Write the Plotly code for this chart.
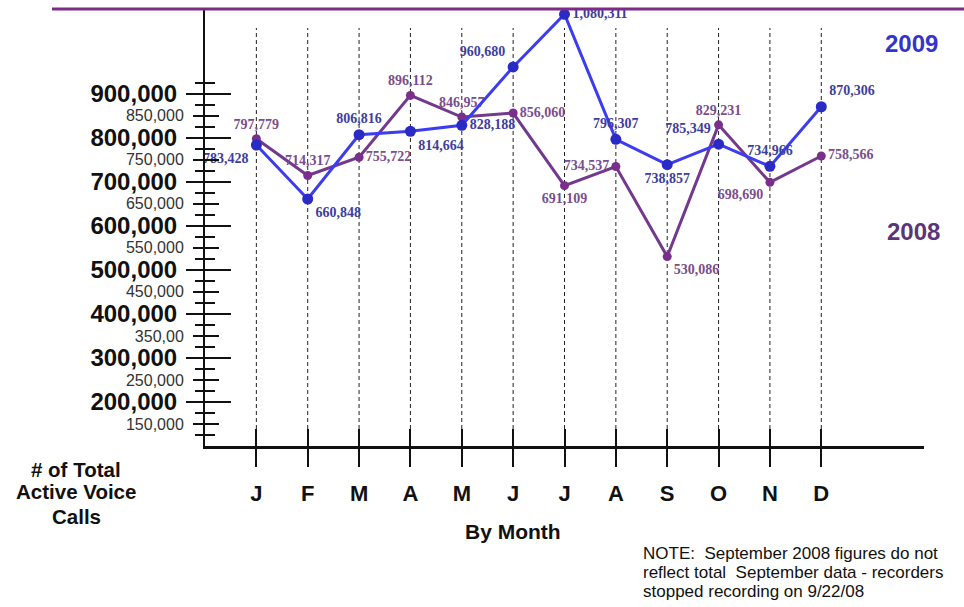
import plotly.graph_objects as go

# Monthly totals of active voice calls
months = ["J", "F", "M", "A", "M", "J", "J", "A", "S", "O", "N", "D"]
calls_2009 = [783428, 660848, 806816, 814664, 828188, 960680, 1080311,
              796307, 738857, 785349, 734966, 870306]
calls_2008 = [797779, 714317, 755722, 896112, 846957, 856060, 691109,
              734537, 530086, 829231, 698690, 758566]

# Value-axis tick scheme: bold labels every 100k, light labels between, small unlabeled ticks
major_vals = [200000, 300000, 400000, 500000, 600000, 700000, 800000, 900000]
major_text = ["200,000", "300,000", "400,000", "500,000", "600,000",
              "700,000", "800,000", "900,000"]
mid_vals = [150000, 250000, 350000, 450000, 550000, 650000, 750000, 850000]
mid_text = ["150,000", "250,000", "350,00", "450,000", "550,000",
            "650,000", "750,000", "850,000"]
minor_vals = [125000, 175000, 225000, 275000, 325000, 375000, 425000, 475000,
              525000, 575000, 625000, 675000, 725000, 775000, 825000, 875000, 925000]

# Where each value label sits around its point
pos_2009 = ["bottom left", "bottom right", "top center", "bottom right", "middle right",
            "top left", "middle right", "top center", "bottom center", "top left",
            "top center", "top right"]
pos_2008 = ["top center", "top center", "middle right", "top center", "top center",
            "middle right", "bottom center", "middle left", "bottom right", "top center",
            "bottom left", "middle right"]

Y_RANGE = [100000, 1090000]
X_RANGE = [-1, 13]
x_idx = list(range(len(months)))

# Plot-area geometry in pixels, used to place free text
FIG_W, FIG_H = 964, 607
PLOT_L, PLOT_W = 205, 719
PLOT_B, PLOT_H = 446, 436


def px_x(px):
    return (px - PLOT_L) / PLOT_W


def px_y(py):
    return (PLOT_B - py) / PLOT_H


SANS = "Liberation Sans, Arial, sans-serif"
SERIF = "Liberation Serif, Times New Roman, serif"

fig = go.Figure()

fig.add_trace(go.Scatter(
    x=x_idx, y=calls_2008, mode="lines+markers+text",
    line=dict(color="#73398c", width=3),
    marker=dict(color="#7a2f8c", size=9),
    text=[f"{v:,}" for v in calls_2008], textposition=pos_2008,
    textfont=dict(family=SERIF, size=14, color="#7a4d8e", weight="bold"),
    cliponaxis=False, showlegend=False, hoverinfo="skip",
))
fig.add_trace(go.Scatter(
    x=x_idx, y=calls_2009, mode="lines+markers+text",
    line=dict(color="#3c3cf2", width=3),
    marker=dict(color="#2a2ac4", size=11),
    text=[f"{v:,}" for v in calls_2009], textposition=pos_2009,
    textfont=dict(family=SERIF, size=14, color="#3e3e9c", weight="bold"),
    cliponaxis=False, showlegend=False, hoverinfo="skip",
))

# Dashed month guides
for i in x_idx:
    fig.add_shape(type="line", xref="x", yref="paper", x0=i, x1=i,
                  y0=px_y(429), y1=px_y(28),
                  line=dict(color="#222222", width=1, dash="4px,3px"), layer="below")

# Heading rule across the top
fig.add_shape(type="line", xref="paper", yref="paper", x0=px_x(52), x1=px_x(964),
              y0=px_y(9), y1=px_y(9), line=dict(color="#7e2a88", width=3))

axis_font_major = dict(family=SANS, size=24, color="#111111", weight="bold")
axis_font_mid = dict(family=SANS, size=16, color="#333333")

fig.update_layout(
    width=FIG_W, height=FIG_H,
    margin=dict(l=PLOT_L, r=FIG_W - PLOT_L - PLOT_W, t=PLOT_B - PLOT_H, b=FIG_H - PLOT_B),
    paper_bgcolor="white", plot_bgcolor="white",
    xaxis=dict(
        range=X_RANGE, tickvals=x_idx, ticktext=months,
        ticks="outside", ticklen=18, tickwidth=2, tickcolor="#111111",
        showline=True, linewidth=2.5, linecolor="#111111",
        showgrid=False, zeroline=False, ticklabelstandoff=8,
        tickfont=dict(family=SANS, size=22, color="#111111", weight="bold"),
    ),
    xaxis2=dict(
        range=X_RANGE, overlaying="x", anchor="y", side="bottom",
        tickvals=x_idx, ticks="inside", ticklen=17, tickwidth=2, tickcolor="#111111",
        showticklabels=False, showline=False, showgrid=False, zeroline=False,
    ),
    yaxis=dict(
        range=Y_RANGE, tickvals=major_vals, ticktext=major_text,
        ticks="outside", ticklen=17, tickwidth=2, tickcolor="#111111",
        showline=True, linewidth=2, linecolor="#111111",
        showgrid=False, zeroline=False, tickfont=axis_font_major, ticklabelstandoff=4,
        minor=dict(tickvals=minor_vals, ticks="outside", ticklen=8, tickwidth=1.5,
                   tickcolor="#111111", showgrid=False),
    ),
    yaxis2=dict(
        range=Y_RANGE, overlaying="y", anchor="x", side="left",
        tickvals=major_vals, ticks="inside", ticklen=26, tickwidth=2, tickcolor="#111111",
        showticklabels=False, showline=False, showgrid=False, zeroline=False,
        minor=dict(tickvals=minor_vals, ticks="inside", ticklen=10, tickwidth=1.5,
                   tickcolor="#111111", showgrid=False),
    ),
    yaxis3=dict(
        range=Y_RANGE, overlaying="y", anchor="x", side="left",
        tickvals=mid_vals, ticktext=mid_text,
        ticks="outside", ticklen=11, tickwidth=1.5, tickcolor="#111111",
        showline=False, showgrid=False, zeroline=False, tickfont=axis_font_mid,
        ticklabelstandoff=6,
    ),
    yaxis4=dict(
        range=Y_RANGE, overlaying="y", anchor="x", side="left",
        tickvals=mid_vals, ticks="inside", ticklen=14, tickwidth=1.5, tickcolor="#111111",
        showticklabels=False, showline=False, showgrid=False, zeroline=False,
    ),
)

# Empty traces bind the overlay axes so their ticks are drawn
for xa, ya in [("x2", "y"), ("x", "y2"), ("x", "y3"), ("x", "y4")]:
    fig.add_trace(go.Scatter(x=[], y=[], xaxis=xa, yaxis=ya, showlegend=False,
                             hoverinfo="skip"))


def add_text(text, xpx, ypx, font, xanchor="center"):
    fig.add_annotation(text=text, xref="paper", yref="paper", x=px_x(xpx), y=px_y(ypx),
                       xanchor=xanchor, yanchor="middle", showarrow=False, font=font)


# Series names beside the lines
add_text("2009", 911, 43, dict(family=SANS, size=24, color="#3434cc", weight="bold"))
add_text("2008", 913, 231, dict(family=SANS, size=24, color="#5c3579", weight="bold"))

# Axis captions
caption_font = dict(family=SANS, size=20.5, color="#111111", weight="bold")
for line_text, ypx in [("# of Total", 469), ("Active Voice", 492), ("Calls", 516)]:
    add_text(line_text, 76, ypx, caption_font)
add_text("By Month", 513, 531, dict(family=SANS, size=21, color="#111111", weight="bold"))

# Footnote
note_lines = ["NOTE:  September 2008 figures do not",
              "reflect total  September data - recorders",
              "stopped recording on 9/22/08"]
for line_text, ypx in zip(note_lines, [553, 572, 591]):
    add_text(line_text, 641, ypx, dict(family=SANS, size=17, color="#111111"),
             xanchor="left")

fig.write_html("out.html")
